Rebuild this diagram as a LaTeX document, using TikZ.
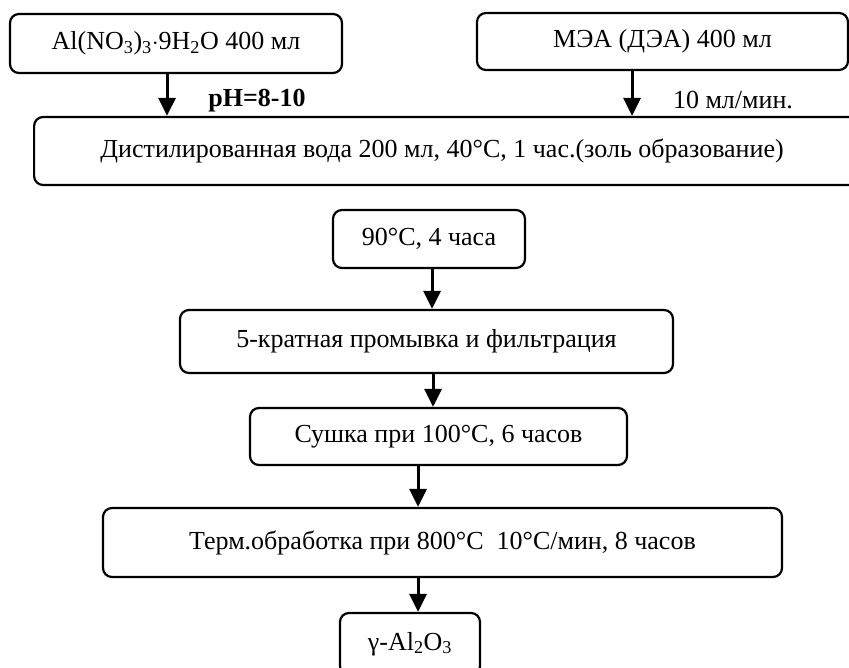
\documentclass[tikz,border=0pt]{standalone}
\usepackage{fontspec}
\setmainfont{Liberation Serif}
\usetikzlibrary{arrows.meta}

\begin{document}
\begin{tikzpicture}[
    x=1pt, y=-1pt,
    stage/.style={draw, line width=2.2pt, rounded corners=9pt, inner sep=0pt,
        font=\fontsize{26}{30}\selectfont},
    flow/.style={line width=3pt, -{Triangle[width=17pt,length=18pt]}},
    note/.style={font=\fontsize{26}{30}\selectfont}
]

    \useasboundingbox (0,0) rectangle (849,668);
    \clip (0,0) rectangle (849,668);

    % starting solutions
    \node[stage, minimum width=332, minimum height=59] (alum) at (176,43.5)
        {Al(NO\textsubscript{3})\textsubscript{3}$\cdot$9H\textsubscript{2}O 400 мл};
    \node[stage, minimum width=371, minimum height=57] (mea) at (662.5,41.5)
        {МЭА (ДЭА) 400 мл};

    % sol formation
    \node[stage, minimum width=860, minimum height=68, anchor=west] (water) at (33,151)
        {\hspace*{-44pt}Дистилированная вода 200 мл, 40°C, 1 час.(золь образование)};

    \node[note, font=\fontsize{26}{30}\selectfont\bfseries] (ph) at (257,101) {pH=8-10};
    \node[note] (rate) at (733,100) {10 мл/мин.};

    \draw[flow] ([xshift=-9pt]alum.south) -- ([xshift=-9pt]alum.south |- water.north);
    \draw[flow] ([xshift=-30.5pt]mea.south) -- ([xshift=-30.5pt]mea.south |- water.north);

    % treatment steps
    \node[stage, minimum width=192, minimum height=58] (heat) at (429,239) {90°C, 4 часа};
    \node[stage, minimum width=493, minimum height=63] (wash) at (426.5,341.5)
        {5-кратная промывка и фильтрация};
    \node[stage, minimum width=377, minimum height=57] (dry) at (438.5,436.5)
        {Сушка при 100°C, 6 часов};
    \node[stage, minimum width=679, minimum height=69] (calc) at (442.5,542.5)
        {Терм.обработка при 800°C\ \ 10°C/мин, 8 часов};
    \node[stage, minimum width=140, minimum height=62] (gamma) at (410,644)
        {\raisebox{3pt}{γ-Al\textsubscript{2}O\textsubscript{3}}};

    \draw[flow] ([xshift=3pt]heat.south) -- ([xshift=3pt]heat.south |- wash.north);
    \draw[flow] ([xshift=6.5pt]wash.south) -- ([xshift=6.5pt]wash.south |- dry.north);
    \draw[flow] ([xshift=-20.5pt]dry.south) -- ([xshift=-20.5pt]dry.south |- calc.north);
    \draw[flow] ([xshift=-24.5pt]calc.south) -- ([xshift=-24.5pt]calc.south |- gamma.north);

\end{tikzpicture}
\end{document}
